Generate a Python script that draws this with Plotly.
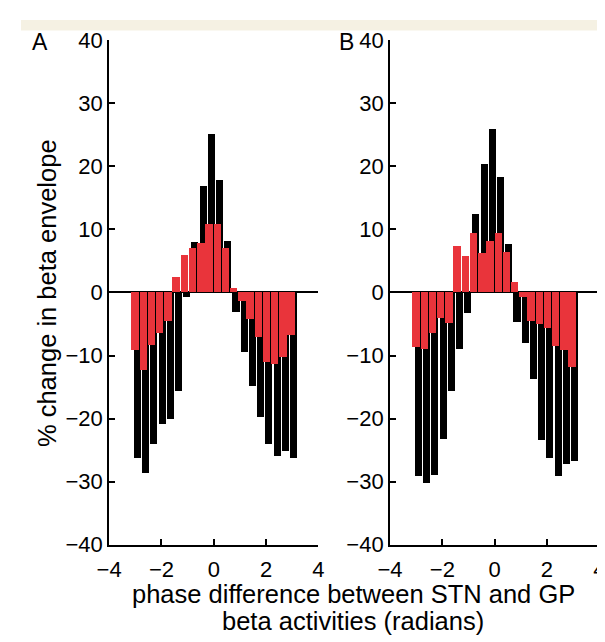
import plotly.graph_objects as go

# phase bin centres (radians), 20 bins over -pi..pi
phase = [-2.985, -2.670, -2.356, -2.042, -1.728, -1.414, -1.100, -0.785, -0.471, -0.157,
         0.157, 0.471, 0.785, 1.100, 1.414, 1.728, 2.042, 2.356, 2.670, 2.985]

# panel A
a_black = [-26.2, -28.7, -24.0, -20.9, -20.1, -15.6, -0.7, 7.9, 16.9, 25.1,
           17.8, 8.1, -3.2, -9.5, -14.8, -19.7, -24.0, -25.9, -25.2, -26.2]
a_red = [-9.1, -12.3, -8.3, -6.4, -4.6, 2.4, 5.9, 7.1, 7.8, 10.8,
         10.8, 7.1, 0.7, -1.4, -4.3, -7.1, -11.0, -11.4, -10.3, -6.7]

# panel B
b_black = [-29.2, -30.3, -29.0, -23.2, -15.6, -9.0, -3.3, 12.4, 20.4, 25.9,
           18.2, 7.6, -4.7, -8.0, -13.7, -23.4, -26.2, -29.1, -27.3, -26.8]
b_red = [-8.7, -9.0, -6.5, -4.0, -4.8, 7.3, 5.8, 9.4, 6.25, 8.2,
         9.4, 6.4, 1.6, -0.8, -4.5, -5.1, -5.7, -8.5, -9.1, -11.8]

x_ticks = [-4, -2, 0, 2, 4]
y_ticks = [-40, -30, -20, -10, 0, 10, 20, 30, 40]

RED = "#e9343b"
FONT = "Liberation Sans, Arial, sans-serif"
W, H = 605, 642

fig = go.Figure()

for ax, blk, red in [("", a_black, a_red), ("2", b_black, b_red)]:
    fig.add_trace(go.Bar(
        x=phase, y=blk, xaxis="x" + ax, yaxis="y" + ax,
        width=0.27, offset=-0.065,
        marker=dict(color="black", line=dict(width=0)),
        showlegend=False, hoverinfo="x+y",
    ))
    fig.add_trace(go.Bar(
        x=phase, y=red, xaxis="x" + ax, yaxis="y" + ax,
        width=0.285, offset=-0.16,
        marker=dict(color=RED, line=dict(width=0)),
        showlegend=False, hoverinfo="x+y",
    ))

y_dom = [1 - 546 / H, 1 - 21 / H]
tick_font = dict(family=FONT, size=22, color="black")
common_x = dict(
    range=[-4, 4], tickvals=x_ticks, ticks="inside", ticklen=6, tickwidth=1.5,
    tickcolor="black", showline=True, linecolor="black", linewidth=2,
    showgrid=False, zeroline=False, tickfont=tick_font, ticklabelstandoff=4,
)
common_y = dict(
    range=[-40, 40], tickvals=y_ticks, ticks="inside", ticklen=6, tickwidth=1.5,
    tickcolor="black", showline=True, linecolor="black", linewidth=2,
    showgrid=False, zeroline=True, zerolinecolor="black", zerolinewidth=2,
    tickfont=tick_font, domain=y_dom,
)

fig.update_layout(
    width=W, height=H,
    margin=dict(l=0, r=0, t=0, b=0),
    paper_bgcolor="white", plot_bgcolor="white",
    barmode="overlay", bargap=0,
    xaxis=dict(domain=[91 / W, 307 / W], anchor="y", **common_x),
    yaxis=dict(anchor="x", **common_y),
    xaxis2=dict(domain=[381 / W, 597 / W], anchor="y2", **common_x),
    yaxis2=dict(anchor="x2", **common_y),
    shapes=[dict(type="rect", xref="paper", yref="paper", x0=0, x1=1,
                 y0=1 - 11 / H, y1=1, fillcolor="#f5f1e3", line=dict(width=0),
                 layer="below")],
)

txt = dict(family=FONT, size=25.5, color="black")
fig.add_annotation(text="% change in beta envelope", textangle=-90,
                   xref="paper", yref="paper", x=27 / W, y=1 - 284 / H,
                   showarrow=False, font=txt, xanchor="center", yanchor="middle")
fig.add_annotation(text="phase difference between STN and GP",
                   xref="paper", yref="paper", x=343 / W, y=1 - 597 / H,
                   showarrow=False, font=txt, xanchor="center", yanchor="middle")
fig.add_annotation(text="beta activities (radians)",
                   xref="paper", yref="paper", x=343 / W, y=1 - 625 / H,
                   showarrow=False, font=txt, xanchor="center", yanchor="middle")
for lab, px in [("A", 20), ("B", 336)]:
    fig.add_annotation(text=lab, xref="paper", yref="paper", x=px / W, y=1 - 23 / H,
                       showarrow=False, font=dict(family=FONT, size=23, color="black"),
                       xanchor="center", yanchor="middle")

fig.write_html("out.html")
